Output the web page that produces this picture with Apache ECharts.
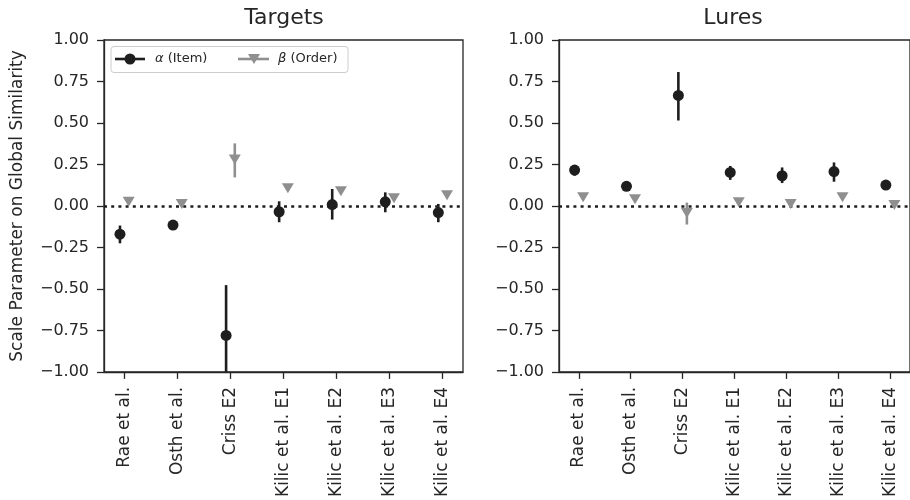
<!DOCTYPE html>
<html>
<head>
<meta charset="utf-8">
<script src="https://cdn.jsdelivr.net/npm/echarts@6/dist/echarts.min.js"></script>
<style>html,body{margin:0;padding:0;background:#fff}#c{width:910px;height:500px}</style>
</head>
<body>
<div id="c"></div>
<script>
const categories = ['Rae et al.', 'Osth et al.', 'Criss E2', 'Kilic et al. E1', 'Kilic et al. E2', 'Kilic et al. E3', 'Kilic et al. E4'];
const panelTitles = ['Targets', 'Lures'];

const targetsAlpha   = [-0.170, -0.115, -0.780, -0.035, 0.008, 0.025, -0.040];
const targetsAlphaLo = [-0.225, -0.125, -1.050, -0.098, -0.082, -0.038, -0.098];
const targetsAlphaHi = [-0.118, -0.105, -0.477, 0.028, 0.102, 0.082, 0.012];
const targetsBeta    = [0.025, 0.012, 0.280, 0.106, 0.088, 0.046, 0.064];
const targetsBetaLo  = [0.015, 0.004, 0.172, 0.096, 0.078, 0.036, 0.054];
const targetsBetaHi  = [0.035, 0.020, 0.377, 0.116, 0.098, 0.056, 0.074];

const luresAlpha   = [0.216, 0.118, 0.666, 0.202, 0.182, 0.207, 0.126];
const luresAlphaLo = [0.182, 0.108, 0.515, 0.157, 0.138, 0.146, 0.116];
const luresAlphaHi = [0.247, 0.128, 0.807, 0.241, 0.232, 0.262, 0.136];
const luresBeta    = [0.052, 0.040, -0.042, 0.022, 0.012, 0.052, 0.006];
const luresBetaLo  = [0.042, 0.030, -0.112, 0.012, 0.002, 0.042, -0.004];
const luresBetaHi  = [0.062, 0.050, 0.020, 0.032, 0.022, 0.062, 0.016];

const FONT = 'DejaVu Sans';
const TXT = '#262626';
const BLACK = '#1e1e1e';
const GRAY = '#8f8f8f';
const DODGE = 0.082;

const chart = echarts.init(document.getElementById('c'), null, {renderer: 'canvas'});

const panels = [
  {alpha: targetsAlpha, aLo: targetsAlphaLo, aHi: targetsAlphaHi, beta: targetsBeta, bLo: targetsBetaLo, bHi: targetsBetaHi},
  {alpha: luresAlpha, aLo: luresAlphaLo, aHi: luresAlphaHi, beta: luresBeta, bLo: luresBetaLo, bHi: luresBetaHi}
];

const grids = [
  {left: 104, top: 40, width: 359, height: 334, show: true, borderColor: TXT, borderWidth: 1.3, backgroundColor: 'transparent'},
  {left: 559, top: 40, width: 359, height: 334, show: true, borderColor: TXT, borderWidth: 1.3, backgroundColor: 'transparent'}
];

const idx = categories.map((_, i) => i);

const xAxes = grids.map((g, k) => ({
  type: 'value', gridIndex: k, min: -0.383, max: 6.383,
  splitLine: {show: false},
  axisLine: {show: true, onZero: false, lineStyle: {color: TXT, width: 1.3}},
  axisTick: {show: true, length: 7, lineStyle: {color: TXT, width: 1.3}, customValues: idx},
  axisLabel: {customValues: idx, formatter: v => categories[Math.round(v)], rotate: 90, margin: 15,
              color: TXT, fontFamily: FONT, fontSize: 17}
}));

const yAxes = grids.map((g, k) => ({
  type: 'value', gridIndex: k, min: -1, max: 1, interval: 0.25,
  splitLine: {show: false},
  axisLine: {show: true, onZero: false, lineStyle: {color: TXT, width: 1.3}},
  axisTick: {show: true, length: 7, lineStyle: {color: TXT, width: 1.3}},
  axisLabel: {formatter: v => (v < 0 ? '\u2212' : '') + Math.abs(v).toFixed(2), margin: 15,
              color: TXT, fontFamily: FONT, fontSize: 16},
  name: k === 0 ? 'Scale Parameter on Global Similarity' : '',
  nameLocation: 'middle', nameRotate: 90, nameGap: 78,
  nameTextStyle: {color: TXT, fontFamily: FONT, fontSize: 17}
}));

function errSeries(k, lo, hi, off, color) {
  return {
    type: 'custom', xAxisIndex: k, yAxisIndex: k, clip: true, z: 2,
    data: idx.map(i => [i + off, lo[i], hi[i]]),
    renderItem: function (params, api) {
      const p1 = api.coord([api.value(0), api.value(1)]);
      const p2 = api.coord([api.value(0), api.value(2)]);
      return {type: 'line', shape: {x1: p1[0], y1: p1[1], x2: p2[0], y2: p2[1]},
              style: {stroke: color, lineWidth: 2.6}};
    },
    silent: true
  };
}

const series = [];
panels.forEach((p, k) => {
  series.push(errSeries(k, p.bLo, p.bHi, DODGE, GRAY));
  series.push(errSeries(k, p.aLo, p.aHi, -DODGE, BLACK));
  series.push({
    type: 'scatter', xAxisIndex: k, yAxisIndex: k, z: 3,
    symbol: 'triangle', symbolRotate: 180, symbolSize: [12, 10],
    itemStyle: {color: GRAY, opacity: 1},
    data: idx.map(i => [i + DODGE, p.beta[i]]),
    silent: true
  });
  series.push({
    type: 'scatter', xAxisIndex: k, yAxisIndex: k, z: 4,
    symbol: 'circle', symbolSize: 11,
    itemStyle: {color: BLACK, opacity: 1},
    data: idx.map(i => [i - DODGE, p.alpha[i]]),
    silent: true,
    markLine: {
      silent: true, symbol: 'none', z: 1, animation: false,
      label: {show: false},
      lineStyle: {color: BLACK, type: [3, 4.2], width: 2.6},
      data: [{yAxis: 0}]
    }
  });
});

const legendY = 59;
const graphic = [
  {type: 'text', x: 284, y: 18, style: {text: panelTitles[0], font: '22px "DejaVu Sans"', fill: TXT, textAlign: 'center', textVerticalAlign: 'middle'}},
  {type: 'text', x: 733, y: 18, style: {text: panelTitles[1], font: '22px "DejaVu Sans"', fill: TXT, textAlign: 'center', textVerticalAlign: 'middle'}},
  {type: 'rect', shape: {x: 111, y: 46.5, width: 237, height: 26, r: 3},
   style: {fill: 'rgba(255,255,255,0.8)', stroke: '#cccccc', lineWidth: 1}, z: 10},
  {type: 'line', shape: {x1: 115, y1: legendY, x2: 145, y2: legendY}, style: {stroke: BLACK, lineWidth: 2.6}, z: 11},
  {type: 'circle', shape: {cx: 130, cy: legendY, r: 5.5}, style: {fill: BLACK}, z: 11},
  {type: 'text', x: 155, y: legendY, z: 11,
   style: {text: '{it|α} (Item)', fill: TXT, font: '13px "DejaVu Sans"', verticalAlign: 'middle',
           rich: {it: {fontStyle: 'italic', fontFamily: 'DejaVu Sans', fontSize: 13, fill: TXT}}}},
  {type: 'line', shape: {x1: 238, y1: legendY, x2: 269, y2: legendY}, style: {stroke: GRAY, lineWidth: 2.6}, z: 11},
  {type: 'polygon', shape: {points: [[248, legendY - 5], [260, legendY - 5], [254, legendY + 5]]}, style: {fill: GRAY}, z: 11},
  {type: 'text', x: 278, y: legendY, z: 11,
   style: {text: '{it|β} (Order)', fill: TXT, font: '13px "DejaVu Sans"', verticalAlign: 'middle',
           rich: {it: {fontStyle: 'italic', fontFamily: 'DejaVu Sans', fontSize: 13, fill: TXT}}}}
];

chart.setOption({
  animation: false,
  backgroundColor: '#ffffff',
  textStyle: {fontFamily: FONT},
  grid: grids,
  xAxis: xAxes,
  yAxis: yAxes,
  series: series,
  graphic: graphic
});
</script>
</body>
</html>
